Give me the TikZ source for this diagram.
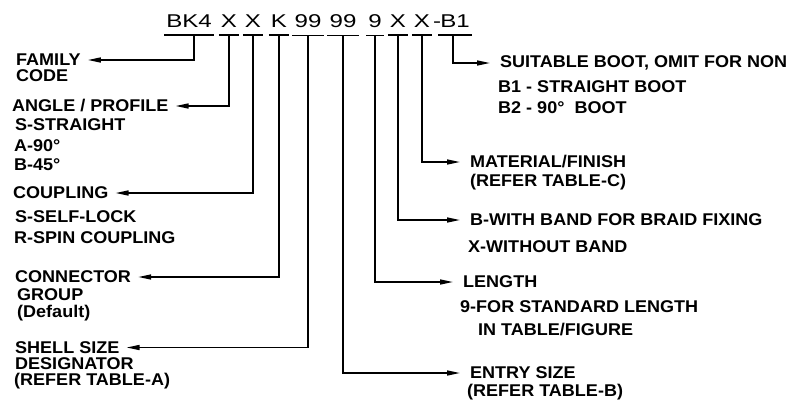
\documentclass[tikz,border=0pt]{standalone}
\usepackage{fontspec}
\newfontfamily\codefont[FakeStretch=1.3]{Liberation Sans}
\newfontfamily\lblfont[FakeStretch=1.06]{Liberation Sans}
\usetikzlibrary{arrows.meta}
\tikzset{
  code/.style={font=\codefont\fontsize{18.5}{22}\selectfont, anchor=base, inner xsep=2pt, inner ysep=8pt},
  lbl/.style={font=\lblfont\bfseries\fontsize{17}{20}\selectfont, anchor=west, inner sep=0pt},
  uline/.style={line width=1.5pt},
  lconn/.style={line width=1.5pt, -{Triangle[length=13pt,width=5pt]}, shorten >=7pt},
  rconn/.style={line width=1.5pt, -{Triangle[length=13pt,width=5pt]}, shorten >=10pt},
}

\begin{document}
\begin{tikzpicture}[x=1pt,y=-1pt]
			\useasboundingbox (0,0) rectangle (803,400);
			%%%%% START %%%%%
			
			% part number
			\node[code] (bk) at (189,27) {BK4};
			\node[code] (ang) at (229,27) {X};
			\node[code] (cpl) at (253,27) {X};
			\node[code] (grp) at (279,27) {K};
			\node[code] (shl) at (308,27) {99};
			\node[code] (ent) at (343,27) {99};
			\node[code] (len) at (375,27) {9};
			\node[code] (bnd) at (398,27) {X};
			\node[code] (mat) at (422,27) {X};
			\node[code] (hyph) at (437,27) {-};
			\node[code] (boot) at (455,27) {B1};
			\foreach \n in {bk,ang,cpl,grp,shl,ent,len,bnd,mat,boot}
				\draw[uline] (\n.south west) -- (\n.south east);
			
			% left side
			\node[lbl] (fam) at (16,60) {FAMILY};
			\node[lbl] (fam2) at (16,75.5) {CODE};
			
			\node[lbl] (angl) at (12,106) {ANGLE / PROFILE};
			\node[lbl] (ang2) at (15,125) {S-STRAIGHT};
			\node[lbl] (ang3) at (14,146) {A-90°};
			\node[lbl] (ang4) at (14,165) {B-45°};
			
			\node[lbl] (cplg) at (13,193) {COUPLING};
			\node[lbl] (cpl2) at (15,217) {S-SELF-LOCK};
			\node[lbl] (cpl3) at (14,238) {R-SPIN COUPLING};
			
			\node[lbl] (grpl) at (15,277) {CONNECTOR};
			\node[lbl] (grp2) at (17,295) {GROUP};
			\node[lbl] (grp3) at (17,313) {(Default)};
			
			\node[lbl] (shll) at (15,347.5) {SHELL SIZE};
			\node[lbl] (shl2) at (15,364) {DESIGNATOR};
			\node[lbl] (shl3) at (14,381) {(REFER TABLE-A)};
			
			% right side
			\node[lbl] (boot1) at (500,63) {SUITABLE BOOT, OMIT FOR NON};
			\node[lbl] (boot2) at (498,87) {B1 - STRAIGHT BOOT};
			\node[lbl] (boot3) at (498,108) {B2 - 90°\ \ BOOT};
			
			\node[lbl] (matl) at (470,162) {MATERIAL/FINISH};
			\node[lbl] (mat2) at (470,182) {(REFER TABLE-C)};
			
			\node[lbl] (bndl) at (470,220) {B-WITH BAND FOR BRAID FIXING};
			\node[lbl] (bnd2) at (468,247) {X-WITHOUT BAND};
			
			\node[lbl] (lenl) at (463,282) {LENGTH};
			\node[lbl] (len2) at (460,307) {9-FOR STANDARD LENGTH};
			\node[lbl] (len3) at (478,330) {IN TABLE/FIGURE};
			
			\node[lbl] (entl) at (470,373) {ENTRY SIZE};
			\node[lbl] (ent2) at (467,392) {(REFER TABLE-B)};
			
			% leaders
			\draw[lconn] ([xshift=5pt]bk.south) |- (fam.east);
			\draw[lconn] (ang.south) |- (angl.east);
			\draw[lconn] (cpl.south) |- (cplg.east);
			\draw[lconn] (grp.south) |- (grpl.east);
			\draw[lconn] (shl.south) |- (shll.east);
			\draw[rconn] (ent.south) |- (entl.west);
			\draw[rconn] (len.south) |- (lenl.west);
			\draw[rconn] (bnd.south) |- (bndl.west);
			\draw[rconn] (mat.south) |- (matl.west);
			\draw[rconn] ([xshift=-2pt]boot.south) |- (boot1.west);
			
			%%%%% END %%%%%
		\end{tikzpicture}
\end{document}
